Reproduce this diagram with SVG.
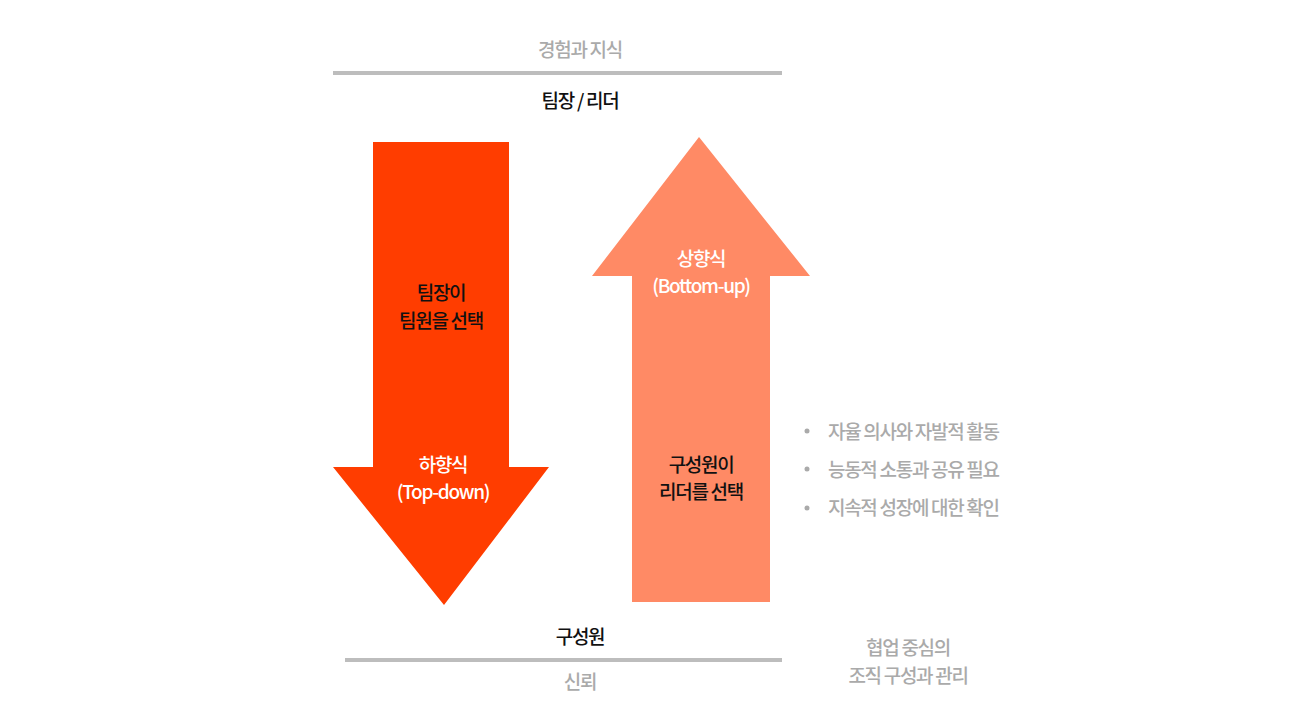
<svg xmlns="http://www.w3.org/2000/svg" width="1300" height="722" viewBox="0 0 1300 722">
<style>
text{font-family:"Noto Sans CJK KR","Noto Sans",sans-serif;font-size:19px;font-weight:500;letter-spacing:-1.3px;text-anchor:middle}
.g{fill:#aaaaaa}
.k{fill:#111111}
.w{fill:#ffffff}
.l{text-anchor:start}
.rule{stroke:#bdbdbd;stroke-width:4}
</style>
<rect width="1300" height="722" fill="#ffffff"/>
<g id="top">
<text class="g" x="580" y="57">경험과 지식</text>
<text class="k" x="580" y="108">팀장 / 리더</text>
</g>
<g id="connectors">
<line class="rule" x1="333" y1="73" x2="782" y2="73"/>
<line class="rule" x1="345" y1="660" x2="782" y2="660"/>
</g>
<g id="down-arrow">
<polygon points="373,142 509,142 509,467 549,467 444,605 333,467 373,467" fill="#ff3d00"/>
<text class="k" x="441" y="300">팀장이</text>
<text class="k" x="441" y="328">팀원을 선택</text>
<text class="w" x="443" y="472">하향식</text>
<text class="w" x="443" y="499">(Top-down)</text>
</g>
<g id="up-arrow">
<polygon points="699,137 810,276 770,276 770,602 632,602 632,276 592,276" fill="#ff8a65"/>
<text class="w" x="701" y="266">상향식</text>
<text class="w" x="701" y="293">(Bottom-up)</text>
<text class="k" x="701" y="472">구성원이</text>
<text class="k" x="701" y="499">리더를 선택</text>
</g>
<g id="bottom">
<text class="k" x="580" y="644">구성원</text>
<text class="g" x="580" y="689">신뢰</text>
</g>
<g id="side-note">
<text class="g" x="908" y="655">협업 중심의</text>
<text class="g" x="908" y="683">조직 구성과 관리</text>
</g>
<g id="bullets">
<circle cx="807" cy="431" r="2.5" fill="#aaaaaa"/>
<circle cx="807" cy="469" r="2.5" fill="#aaaaaa"/>
<circle cx="807" cy="508" r="2.5" fill="#aaaaaa"/>
<text class="g l" x="828" y="439">자율 의사와 자발적 활동</text>
<text class="g l" x="828" y="477">능동적 소통과 공유 필요</text>
<text class="g l" x="828" y="515">지속적 성장에 대한 확인</text>
</g>
</svg>
